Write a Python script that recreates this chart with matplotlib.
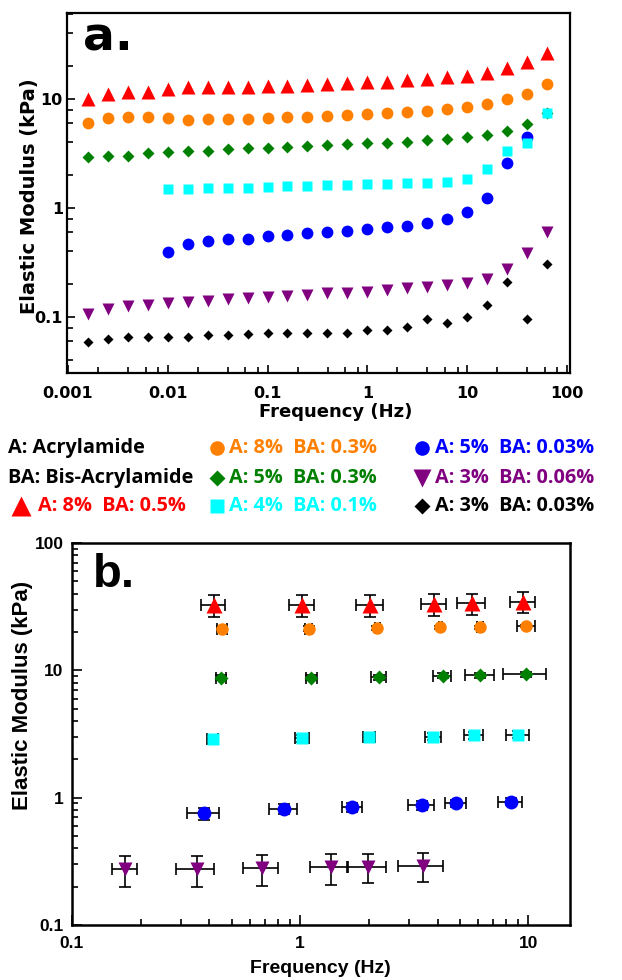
import matplotlib
matplotlib.use("Agg")
import matplotlib.pyplot as plt
from matplotlib.lines import Line2D
from matplotlib.ticker import LogLocator, NullFormatter

# ---- panel a: frequency sweeps ----
freq_a = [0.00158, 0.00251, 0.00398, 0.00631, 0.01, 0.0158, 0.0251, 0.0398,
          0.0631, 0.1, 0.158, 0.251, 0.398, 0.631, 1.0, 1.58, 2.51, 3.98,
          6.31, 10.0, 15.8, 25.1, 39.8, 63.1]

red_a = [10.0, 11.0, 11.5, 11.7, 12.4, 12.8, 13.0, 13.0, 13.0, 13.2, 13.2, 13.5,
         13.7, 14.0, 14.3, 14.4, 15.0, 15.4, 15.8, 16.3, 17.2, 19.4, 22.0, 26.3]
orange_a = [6.07, 6.74, 6.88, 6.79, 6.65, 6.42, 6.51, 6.51, 6.56, 6.70, 6.79, 6.88,
            7.03, 7.13, 7.23, 7.39, 7.60, 7.82, 8.09, 8.50, 8.93, 10.0, 11.1, 13.6]
green_a = [2.96, 3.0, 3.0, 3.18, 3.29, 3.36, 3.36, 3.45, 3.52, 3.57, 3.65, 3.73,
           3.78, 3.87, 3.92, 3.97, 4.06, 4.20, 4.26, 4.45, 4.67, 5.08, 5.90, 7.4]
# blue and cyan start at 0.01 Hz
blue_a = [0.397, 0.468, 0.498, 0.515, 0.515, 0.553, 0.565, 0.594, 0.602, 0.620,
          0.637, 0.665, 0.684, 0.733, 0.787, 0.912, 1.23, 2.57, 4.51]
cyan_a = [1.48, 1.48, 1.51, 1.54, 1.54, 1.57, 1.59, 1.59, 1.61, 1.61, 1.65, 1.65,
          1.68, 1.68, 1.73, 1.85, 2.28, 3.36, 3.92, 7.39]
purple_a = [0.106, 0.118, 0.126, 0.129, 0.135, 0.138, 0.141, 0.145, 0.148, 0.154,
            0.157, 0.159, 0.165, 0.167, 0.171, 0.177, 0.183, 0.190, 0.197, 0.207,
            0.222, 0.274, 0.389, 0.607]
black_a = [0.0594, 0.0624, 0.0651, 0.0651, 0.0659, 0.0659, 0.0684, 0.0684, 0.0698,
           0.0708, 0.0708, 0.0708, 0.0718, 0.0708, 0.0760, 0.0760, 0.0804, 0.0952,
           0.0887, 0.1007, 0.129, 0.211, 0.0952, 0.304]

# ---- panel b: averaged moduli with error bars ----
red_bx = [0.417, 1.02, 2.03, 3.87, 5.66, 9.48]
red_by = [32.5, 32.5, 32.5, 33.1, 33.5, 34.5]
red_bxe = [0.049, 0.13, 0.27, 0.48, 0.82, 1.2]
red_bye = [6.2, 6.2, 6.3, 6.5, 6.5, 6.5]

orange_bx = [0.453, 1.09, 2.18, 4.11, 6.12, 9.80]
orange_by = [21.3, 21.3, 21.5, 21.8, 21.8, 22.2]
orange_bxe = [0.023, 0.04, 0.06, 0.05, 0.2, 0.9]
orange_bye = [0.8, 0.8, 0.8, 0.5, 0.5, 0.5]

green_bx = [0.450, 1.12, 2.21, 4.21, 6.16, 9.80]
green_by = [8.76, 8.76, 8.86, 9.08, 9.18, 9.30]
green_bxe = [0.023, 0.065, 0.17, 0.38, 0.9, 2.1]
green_bye = [0.4, 0.4, 0.4, 0.4, 0.4, 0.4]

cyan_bx = [0.413, 1.02, 2.01, 3.82, 5.76, 9.01]
cyan_by = [2.90, 2.93, 2.98, 3.02, 3.08, 3.12]
cyan_bxe = [0.024, 0.072, 0.12, 0.3, 0.54, 1.05]
cyan_bye = [0.2, 0.2, 0.2, 0.2, 0.2, 0.2]

blue_bx = [0.379, 0.851, 1.69, 3.40, 4.83, 8.34]
blue_by = [0.752, 0.815, 0.839, 0.875, 0.902, 0.931]
blue_bxe = [0.06, 0.12, 0.17, 0.44, 0.51, 0.98]
blue_bye = [0.08, 0.07, 0.07, 0.07, 0.06, 0.06]

purple_bx = [0.171, 0.352, 0.679, 1.36, 1.99, 3.45]
purple_by = [0.274, 0.274, 0.280, 0.283, 0.288, 0.292]
purple_bxe = [0.022, 0.066, 0.12, 0.26, 0.38, 0.76]
purple_bye = [0.076, 0.076, 0.076, 0.076, 0.076, 0.076]

legend_rows = [
    ["A: Acrylamide", "A: 8%  BA: 0.3%", "A: 5%  BA: 0.03%"],
    ["BA: Bis-Acrylamide", "A: 5%  BA: 0.3%", "A: 3%  BA: 0.06%"],
    ["A: 8%  BA: 0.5%", "A: 4%  BA: 0.1%", "A: 3%  BA: 0.03%"],
]

RED, ORANGE, GREEN = "#ff0000", "#ff8000", "#008000"
CYAN, BLUE, PURPLE = "#00ffff", "#0000ff", "#800080"

W, H = 622, 980
fig = plt.figure(figsize=(W / 100, H / 100), dpi=100)

# panel a
ax = fig.add_axes([67 / W, 1 - 373 / H, 503 / W, 360 / H])
start = len(freq_a) - len(blue_a) - 1
ax.plot(freq_a, red_a, "^", color=RED, ms=10, mec="none")
ax.plot(freq_a, orange_a, "o", color=ORANGE, ms=8.5, mec="none")
ax.plot(freq_a, green_a, "D", color=GREEN, ms=6.5, mec="none")
ax.plot(freq_a[start:start + len(blue_a)], blue_a, "o", color=BLUE, ms=8.5, mec="none")
ax.plot(freq_a[start:], cyan_a, "s", color=CYAN, ms=7.5, mec="none")
ax.plot(freq_a, purple_a, "v", color=PURPLE, ms=9, mec="none")
ax.plot(freq_a, black_a, "D", color="black", ms=4.8, mec="none")

ax.set_xscale("log")
ax.set_yscale("log")
ax.set_xlim(0.00098, 107)
ax.set_ylim(0.0306, 61.5)
ax.set_xticks([0.001, 0.01, 0.1, 1, 10, 100], ["0.001", "0.01", "0.1", "1", "10", "100"])
ax.set_yticks([0.1, 1, 10], ["0.1", "1", "10"])
ax.xaxis.set_minor_locator(LogLocator(base=10, subs=[2, 4, 6, 8], numticks=20))
ax.yaxis.set_minor_locator(LogLocator(base=10, subs=[2, 4, 6, 8], numticks=20))
ax.xaxis.set_minor_formatter(NullFormatter())
ax.yaxis.set_minor_formatter(NullFormatter())
ax.tick_params(which="both", direction="in", width=1.2, top=False, right=False)
ax.tick_params(which="major", length=6)
ax.tick_params(which="minor", length=4.5)
ax.tick_params(axis="x", which="major", pad=9)
ax.tick_params(axis="y", which="major", pad=3)
for lab in ax.get_xticklabels() + ax.get_yticklabels():
    lab.set_fontfamily("DejaVu Sans")
    lab.set_fontweight("bold")
    lab.set_fontsize(11.5)
for s in ax.spines.values():
    s.set_linewidth(1.6)
ax.set_xlabel("Frequency (Hz)", fontsize=13, fontweight="bold", family="DejaVu Sans")
ax.set_ylabel("Elastic Modulus (kPa)", fontsize=14, fontweight="bold", family="DejaVu Sans")
ax.xaxis.set_label_coords(0.535, -0.108)
ax.xaxis.label.set_va("center")
ax.yaxis.set_label_coords(-0.0755, 0.49)
ax.yaxis.label.set_va("center")
ax.text(0.032, 0.897, "a.", transform=ax.transAxes, fontsize=34, fontweight="bold",
        family="DejaVu Sans", va="baseline", ha="left")

# legend between panels
row_y = [448, 478, 506]
legend_font = dict(family="Open Sans", fontweight="bold", fontsize=14.3, va="center", ha="left")
legend_marks = [
    [None, ("o", ORANGE, 10.5), ("o", BLUE, 10.5)],
    [None, ("D", GREEN, 8.5), ("v", PURPLE, 13)],
    [("^", RED, 14), ("s", CYAN, 10), ("D", "black", 8.5)],
]
legend_colors = [
    ["black", ORANGE, BLUE],
    ["black", GREEN, PURPLE],
    [RED, CYAN, "black"],
]
mark_x = [21, 217, 422]
text_x = [[8, 229, 435], [8, 229, 435], [38, 229, 435]]
for r in range(3):
    for c in range(3):
        y = 1 - row_y[r] / H
        m = legend_marks[r][c]
        if m is not None:
            fig.add_artist(Line2D([mark_x[c] / W], [y], transform=fig.transFigure,
                                  marker=m[0], color=m[1], ms=m[2], mec="none", ls="none"))
        fig.text(text_x[r][c] / W, y, legend_rows[r][c], color=legend_colors[r][c], **legend_font)

# panel b
bx = fig.add_axes([72 / W, 1 - 925 / H, 498 / W, 382 / H])
err = dict(ecolor="black", elinewidth=1.2, capsize=4, capthick=1.2, ls="none", mec="none")
bx.errorbar(red_bx, red_by, xerr=red_bxe, yerr=red_bye, fmt="^", color=RED, ms=11, **err)
bx.errorbar(orange_bx, orange_by, xerr=orange_bxe, yerr=orange_bye, fmt="o", color=ORANGE, ms=9, **err)
bx.errorbar(green_bx, green_by, xerr=green_bxe, yerr=green_bye, fmt="D", color=GREEN, ms=6.8, **err)
bx.errorbar(cyan_bx, cyan_by, xerr=cyan_bxe, yerr=cyan_bye, fmt="s", color=CYAN, ms=8.5, **err)
bx.errorbar(blue_bx, blue_by, xerr=blue_bxe, yerr=blue_bye, fmt="o", color=BLUE, ms=10, **err)
bx.errorbar(purple_bx, purple_by, xerr=purple_bxe, yerr=purple_bye, fmt="v", color=PURPLE, ms=10, **err)

bx.set_xscale("log")
bx.set_yscale("log")
bx.set_xlim(0.1, 15.2)
bx.set_ylim(0.1, 100)
bx.set_xticks([0.1, 1, 10], ["0.1", "1", "10"])
bx.set_yticks([0.1, 1, 10, 100], ["0.1", "1", "10", "100"])
bx.xaxis.set_minor_formatter(NullFormatter())
bx.yaxis.set_minor_formatter(NullFormatter())
bx.tick_params(which="both", direction="in", width=1.2, top=False, right=False)
bx.tick_params(which="major", length=7)
bx.tick_params(which="minor", length=4.5)
bx.tick_params(axis="x", which="major", pad=8)
bx.tick_params(axis="y", which="major", pad=6)
for lab in bx.get_xticklabels() + bx.get_yticklabels():
    lab.set_fontfamily("Liberation Sans")
    lab.set_fontweight("bold")
    lab.set_fontsize(12.5)
for s in bx.spines.values():
    s.set_linewidth(1.8)
bx.set_xlabel("Frequency (Hz)", fontsize=14, fontweight="bold", family="Liberation Sans")
bx.set_ylabel("Elastic Modulus (kPa)", fontsize=16, fontweight="bold", family="Liberation Sans")
bx.xaxis.set_label_coords(0.498, -0.113)
bx.xaxis.label.set_va("center")
bx.yaxis.set_label_coords(-0.100, 0.60)
bx.yaxis.label.set_va("center")
bx.text(0.042, 0.885, "b.", transform=bx.transAxes, fontsize=34, fontweight="bold",
        family="Liberation Sans", va="baseline", ha="left")

fig.savefig("out.png", dpi=100)
